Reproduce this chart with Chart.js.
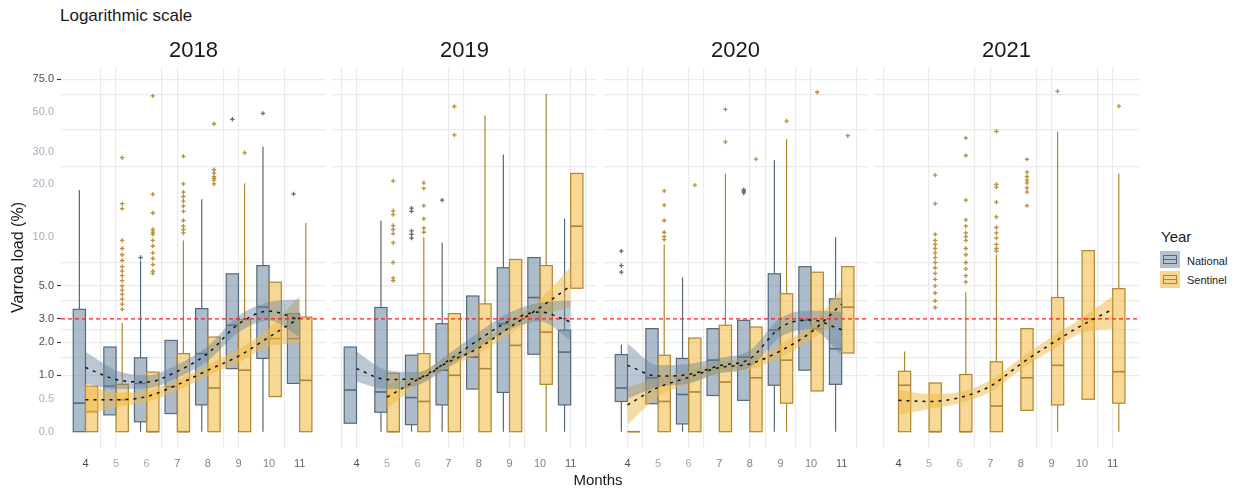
<!DOCTYPE html>
<html>
<head>
<meta charset="utf-8">
<title>Varroa load by month</title>
<script src="https://cdn.jsdelivr.net/npm/chart.js@4.4.1/dist/chart.umd.min.js"></script>
<style>
  body { margin: 0; background: #fff; }
  #page { position: relative; width: 1241px; height: 488px; font-family: "Liberation Sans", Arial, sans-serif; color: #1a1a1a; }
  .panel { position: absolute; top: 0; height: 488px; }
  .txt { position: absolute; white-space: nowrap; line-height: 1; }
  .key { position: absolute; width: 20px; height: 17px; }
  .key div { position: absolute; left: 3px; right: 3px; top: 4px; bottom: 4px; border: 1px solid; }
  .key div::after { content: ""; position: absolute; left: 0; right: 0; top: 3px; border-top: 1px solid; border-top-color: inherit; }
</style>
</head>
<body>
<div id="page">
  <div class="txt" style="left:60px;top:7px;font-size:17px">Logarithmic scale</div>
  <div class="panel" style="left:0;width:326px"><canvas id="chart2018"></canvas></div>
  <div class="panel" style="left:332px;width:265px"><canvas id="chart2019"></canvas></div>
  <div class="panel" style="left:603px;width:265px"><canvas id="chart2020"></canvas></div>
  <div class="panel" style="left:874px;width:265px"><canvas id="chart2021"></canvas></div>
  <div class="txt" style="left:598px;top:472px;font-size:15px;transform:translateX(-50%)">Months</div>
  <div class="txt" style="left:1161px;top:229px;font-size:15px">Year</div>
  <div class="key" style="left:1160px;top:251px;background:#b3c2ce"><div style="border-color:#56687a"></div></div>
  <div class="txt" style="left:1187px;top:256px;font-size:11px">National</div>
  <div class="key" style="left:1160px;top:271px;background:#f6d68f"><div style="border-color:#ad8631"></div></div>
  <div class="txt" style="left:1187px;top:275px;font-size:11px">Sentinel</div>
</div>
<script>
// Months on the x axis
const months = [4, 5, 6, 7, 8, 9, 10, 11];

// Y axis labels (values in %, axis is log10(x + 1))
const yTicks = [0, 0.5, 1, 2, 3, 5, 10, 20, 30, 50, 75];
const yTickText = ['0.0', '0.5', '1.0', '2.0', '3.0', '5.0', '10.0', '20.0', '30.0', '50.0', '75.0'];
const yTickMarked = [false, false, true, true, true, true, false, false, false, false, true];
const gridY = [1, 1.5, 2, 2.5, 4, 5, 7, 25, 40, 62, 75];
const threshold = 3;

// Box stats per month: [lower whisker, q1, median, q3, upper whisker]
const natBox2018 = [[0, 0, 0.42, 3.5, 18.5], [0.23, 0.23, 0.75, 1.83, 1.83], [0, 0.13, 0.81, 1.48, 7.2], [0.25, 0.25, 0.74, 2.07, 2.07],
                    [0, 0.39, 1.61, 3.54, 16.4], [1.17, 1.17, 2.7, 5.96, 5.96], [0, 1.46, 3.62, 6.7, 32.2], [0.81, 0.81, 2.14, 3.27, 3.27]];
const senBox2018 = [[0, 0, 0.28, 0.75, 0.75], [0, 0, 0.48, 0.79, 2.8], [0, 0, 0, 1.08, 1.08], [0, 0, 0, 1.61, 9.5],
                    [0, 0, 0.71, 2.2, 2.2], [0, 0, 1.13, 2.96, 20.2], [0.54, 0.54, 2.14, 5.28, 5.28], [0, 0, 0.88, 3.09, 12]];
const natBox2019 = [[0.11, 0.11, 0.67, 1.83, 1.83], [0, 0.27, 0.63, 3.6, 12.4], [0, 0.09, 0.52, 1.56, 1.56], [0, 0.39, 1.13, 2.77, 9.2],
                    [0.69, 0.69, 1.5, 4.3, 4.3], [0, 0.62, 2.77, 6.5, 29.2], [1.59, 1.59, 4.2, 7.5, 7.5], [0, 0.39, 1.66, 2.48, 12.7]];
const senBox2019 = [null, [0, 0, 0, 1.05, 1.05], [0, 0, 0.45, 1.61, 9.9], [0, 0, 1.0, 3.27, 3.27],
                    [0, 0, 1.17, 3.81, 47.7], [0, 0, 1.89, 7.3, 7.3], [0, 0.79, 2.4, 6.7, 62.6], [4.83, 4.83, 11.5, 22.9, 22.9]];
const natBox2020 = [[0, 0.45, 0.71, 1.58, 1.91], [0.41, 0.41, 0.94, 2.55, 2.55], [0, 0.1, 0.58, 1.46, 5.65], [0.56, 0.56, 1.41, 2.55, 2.55],
                    [0.47, 0.47, 1.5, 2.93, 2.93], [0, 0.77, 2.48, 5.96, 27.2], [1.13, 1.13, 2.93, 6.6, 6.6], [0, 0.79, 1.77, 4.12, 9.9]];
const senBox2020 = [[0, 0, 0, 0, 0], [0, 0, 0.45, 1.56, 9.0], [0, 0, 0.63, 2.16, 2.16], [0, 0, 0.84, 2.7, 22.8],
                    [0, 0, 0.94, 2.62, 2.62], [0, 0.42, 1.41, 4.45, 35.5], [0.65, 0.65, 2.55, 6.1, 6.1], [1.63, 1.63, 3.62, 6.6, 6.6]];
const natBox2021 = [null, null, null, null, null, null, null, null];
const senBox2021 = [[0, 0, 0.77, 1.1, 1.68], [0, 0, 0, 0.82, 0.82], [0, 0, 0, 1.02, 4.55], [0, 0, 0.37, 1.36, 7.8],
                    [0.3, 0.3, 0.94, 2.55, 2.55], [0, 0.39, 1.26, 4.2, 39], [0.49, 0.49, 3.0, 8.25, 8.25], [0, 0.42, 1.09, 4.8, 22.9]];

// Outliers: [month, value]
const natOut2018 = [[6, 7.5], [9, 45.5], [10, 49], [11, 17.6]];
const senOut2018 = [[5, 28], [5, 15.5], [5, 14.5], [5, 9.5], [5, 8.5], [5, 7.8], [5, 7.2], [5, 6.6], [5, 6.2], [5, 5.8], [5, 5.4], [5, 5], [5, 4.7], [5, 4.4], [5, 4.1], [5, 3.8], [5, 3.5],
                    [6, 61], [6, 17.5], [6, 13.7], [6, 11], [6, 10.6], [6, 10.3], [6, 9.5], [6, 8.8], [6, 8], [6, 7.4], [6, 6.8], [6, 6.2], [6, 6],
                    [7, 28.5], [7, 20], [7, 18], [7, 17], [7, 16], [7, 15], [7, 14], [7, 12.4], [7, 11.5], [7, 11], [7, 10.5],
                    [8, 43], [8, 24], [8, 23], [8, 22], [8, 21.5], [8, 21], [8, 20], [9, 29.8]];
const natOut2019 = [[6, 14.6], [6, 14], [6, 10.8], [6, 10.3], [6, 9.8], [7, 16.2]];
const senOut2019 = [[5, 20.8], [5, 14.1], [5, 13.4], [5, 11.6], [5, 11], [5, 10.4], [5, 9.2], [5, 7], [5, 5.6], [5, 5.4],
                    [6, 20.3], [6, 18.9], [6, 15.1], [6, 12.7], [6, 11.2], [6, 10.6], [7, 53.4], [7, 37.4]];
const natOut2020 = [[4, 8.2], [4, 6.7], [4, 6.1], [8, 18.6], [8, 18.2], [8, 17.8]];
const senOut2020 = [[5, 18.3], [5, 15.2], [5, 12.4], [5, 10.6], [5, 10], [5, 9.6], [6, 19.7], [7, 51.5], [7, 34.2], [8, 27.5], [9, 44.5], [10, 63.8], [11, 37]];
const natOut2021 = [];
const senOut2021 = [[5, 22.4], [5, 15.5], [5, 10.3], [5, 9.5], [5, 9], [5, 8.5], [5, 8], [5, 7.5], [5, 7], [5, 6.5], [5, 6], [5, 5.5], [5, 5], [5, 4.5], [5, 4], [5, 3.6],
                    [6, 36], [6, 28.8], [6, 16.2], [6, 12.5], [6, 11.5], [6, 10.5], [6, 10], [6, 9.5], [6, 8.5], [6, 7.8], [6, 7], [6, 6.4], [6, 5.8], [6, 5.3],
                    [7, 39.1], [7, 19.9], [7, 19.2], [7, 15.8], [7, 13], [7, 11.3], [7, 10.5], [7, 9.8], [7, 9], [7, 8.5], [7, 8.2],
                    [8, 27.4], [8, 23.3], [8, 22], [8, 21], [8, 20.3], [8, 19], [8, 18], [8, 15.1], [9, 64.6], [11, 53.6]];

// Smoothed trend with confidence band, per month
const natFit2018 = [1.2, 0.9, 0.84, 1.1, 1.62, 2.75, 3.4, 2.95];
const natLo2018 = [0.81, 0.69, 0.7, 0.94, 1.39, 2.38, 2.92, 2.2];
const natHi2018 = [1.66, 1.13, 1.0, 1.28, 1.87, 3.16, 3.93, 4.1];
const senFit2018 = [0.48, 0.48, 0.54, 0.78, 1.13, 1.53, 2.2, 3.05];
const senLo2018 = [0.23, 0.35, 0.44, 0.66, 0.99, 1.35, 1.85, 1.97];
const senHi2018 = [0.81, 0.62, 0.65, 0.9, 1.28, 1.76, 2.59, 4.3];

const natFit2019 = [1.17, 0.9, 0.92, 1.4, 2.1, 2.9, 3.35, 2.85];
const natLo2019 = [0.85, 0.69, 0.77, 1.21, 1.82, 2.52, 2.87, 2.07];
const natHi2019 = [1.68, 1.13, 1.08, 1.6, 2.4, 3.33, 3.88, 4.0];
const senFit2019 = [null, 0.53, 0.9, 1.35, 1.8, 2.6, 3.6, 5.0];
const senLo2019 = [null, 0.33, 0.77, 1.2, 1.61, 2.32, 3.15, 3.6];
const senHi2019 = [null, 0.78, 1.04, 1.52, 2.0, 2.9, 4.1, 6.6];

const natFit2020 = [1.26, 0.98, 1.02, 1.25, 1.45, 2.6, 2.95, 2.5];
const natLo2020 = [0.5, 0.73, 0.81, 1.05, 1.21, 2.2, 2.52, 1.56];
const natHi2020 = [1.95, 1.27, 1.3, 1.47, 1.72, 3.04, 3.44, 3.35];
const senFit2020 = [0.39, 0.72, 0.95, 1.2, 1.3, 1.7, 2.4, 3.8];
const senLo2020 = [0.09, 0.53, 0.8, 1.05, 1.15, 1.49, 2.1, 3.0];
const senHi2020 = [0.73, 0.93, 1.11, 1.36, 1.47, 1.92, 2.72, 4.8];

const natFit2021 = [null, null, null, null, null, null, null, null];
const natLo2021 = natFit2021;
const natHi2021 = natFit2021;
const senFit2021 = [0.47, 0.45, 0.52, 0.75, 1.3, 1.95, 2.7, 3.5];
const senLo2021 = [0.23, 0.32, 0.42, 0.63, 1.15, 1.72, 2.37, 2.55];
const senHi2021 = [0.67, 0.59, 0.63, 0.88, 1.47, 2.2, 3.06, 4.3];

// Vertical grid lines of each panel
const gridX2018 = [4.5, 5, 6.5, 7, 8.5, 9, 10.5];
const gridX2019 = [3.5, 4, 5.5, 7, 7.5, 9, 9.5, 11, 11.5];
const gridX2020 = [4, 4.5, 6, 6.5, 8, 8.5, 9.5, 10, 11.5];
const gridX2021 = [3.5, 5, 6.5, 7, 8.5, 9, 10.5, 11];

const FONT = '"Liberation Sans", Arial, sans-serif';
const X_MIN = 3.2, X_MAX = 11.86;
const Y_MIN = -0.087, Y_MAX = 1.947;
const NAT = { line: '#56687a', fill: 'rgba(118,144,166,0.6)', band: 'rgba(104,132,158,0.45)', dot: '#5b6d7f' };
const SEN = { line: '#ad8631', fill: 'rgba(242,190,78,0.6)', band: 'rgba(240,184,66,0.5)', dot: '#b8913a' };
const xTickColor = ['#4d4d4d', '#a3a5bd', '#a3a5bd', '#7d7f92', '#7d7f92', '#7d7f92', '#7d7f92', '#5d5f70'];

Chart.defaults.font.family = FONT;

const tr = v => Math.log10(v + 1);

// Boxplots drawn under the datasets, through the chart scales
function drawGroup(ctx, x, y, rows, off, col) {
    rows.forEach((r, i) => {
        if (!r) return;
        const m = months[i] + off;
        const l = x.getPixelForValue(m - 0.2);
        const rt = x.getPixelForValue(m + 0.2);
        const c = x.getPixelForValue(m);
        const [lo, q1, md, q3, hi] = r.map(v => y.getPixelForValue(tr(v)));
        ctx.strokeStyle = col.line;
        ctx.lineWidth = 1.2;
        ctx.beginPath();
        ctx.moveTo(c, hi); ctx.lineTo(c, q3);
        ctx.moveTo(c, q1); ctx.lineTo(c, lo);
        ctx.stroke();
        ctx.fillStyle = col.fill;
        ctx.fillRect(l, q3, rt - l, q1 - q3);
        ctx.strokeRect(l, q3, rt - l, q1 - q3);
        ctx.lineWidth = 1.6;
        ctx.beginPath();
        ctx.moveTo(l, md); ctx.lineTo(rt, md);
        ctx.stroke();
    });
}

function boxPlugin(natBox, senBox) {
    return {
        id: 'boxes',
        beforeDatasetsDraw(chart) {
            const { ctx, chartArea: a, scales } = chart;
            ctx.save();
            ctx.beginPath();
            ctx.rect(a.left, a.top, a.right - a.left, a.bottom - a.top);
            ctx.clip();
            drawGroup(ctx, scales.x, scales.y, natBox, -0.2, NAT);
            drawGroup(ctx, scales.x, scales.y, senBox, 0.2, SEN);
            ctx.restore();
        }
    };
}

const pts = vals => vals.map((v, i) => v == null ? null : { x: months[i], y: tr(v) }).filter(p => p);
const outPts = (list, off) => list.map(([m, v]) => ({ x: m + off, y: tr(v) }));

function makePanel(canvasId, year, s, first) {
    const line = { pointRadius: 0, cubicInterpolationMode: 'monotone', fill: false };
    const datasets = [
        { ...line, data: pts(s.natHi), borderColor: 'transparent', borderWidth: 0, fill: '+1', backgroundColor: NAT.band, order: 3 },
        { ...line, data: pts(s.natLo), borderColor: 'transparent', borderWidth: 0, order: 3 },
        { ...line, data: pts(s.senHi), borderColor: 'transparent', borderWidth: 0, fill: '+1', backgroundColor: SEN.band, order: 3 },
        { ...line, data: pts(s.senLo), borderColor: 'transparent', borderWidth: 0, order: 3 },
        { ...line, data: pts(s.natFit), borderColor: '#111', borderWidth: 1.5, borderDash: [3, 5], order: 1 },
        { ...line, data: pts(s.senFit), borderColor: '#111', borderWidth: 1.5, borderDash: [3, 5], order: 1 },
        { data: [{ x: X_MIN, y: tr(threshold) }, { x: X_MAX, y: tr(threshold) }], borderColor: '#ff1a1a', borderWidth: 1.3, borderDash: [4, 3], pointRadius: 0, order: 2 },
        { data: outPts(s.natOut, -0.2), showLine: false, pointStyle: 'cross', pointRadius: 2.2, pointBorderWidth: 1.3, pointBorderColor: NAT.dot, order: 0 },
        { data: outPts(s.senOut, 0.2), showLine: false, pointStyle: 'cross', pointRadius: 2.2, pointBorderWidth: 1.3, pointBorderColor: SEN.dot, order: 0 }
    ];

    new Chart(document.getElementById(canvasId), {
        type: 'line',
        data: { datasets },
        options: {
            responsive: true,
            maintainAspectRatio: false,
            animation: false,
            events: [],
            layout: { autoPadding: false, padding: { top: 35.5, left: 0, right: 0, bottom: 0 } },
            plugins: {
                legend: { display: false },
                tooltip: { enabled: false },
                title: {
                    display: true, text: year, fullSize: false, color: '#1a1a1a',
                    font: { size: 22, weight: 'normal' }, padding: { top: 2, bottom: 3 }
                }
            },
            scales: {
                x: {
                    type: 'linear', position: 'bottom', min: X_MIN, max: X_MAX, bounds: 'data',
                    afterBuildTicks: sc => { sc.ticks = months.map(v => ({ value: v })); },
                    afterFit: sc => { sc.height = 40; },
                    grid: { display: false, drawTicks: false },
                    border: { display: false },
                    ticks: {
                        autoSkip: false, maxRotation: 0, padding: 9,
                        color: c => xTickColor[c.index], font: { size: 11 },
                        callback: v => String(v)
                    }
                },
                xg: {
                    type: 'linear', position: 'bottom', min: X_MIN, max: X_MAX, bounds: 'data',
                    afterBuildTicks: sc => { sc.ticks = s.gridX.map(v => ({ value: v })); },
                    afterFit: sc => { sc.height = 0; },
                    grid: { color: '#ebebeb', lineWidth: 1.2, drawTicks: false },
                    border: { display: false },
                    ticks: { display: false }
                },
                y: {
                    type: 'linear', position: 'left', display: first, min: Y_MIN, max: Y_MAX, bounds: 'data',
                    afterBuildTicks: sc => { sc.ticks = yTicks.map(v => ({ value: tr(v) })); },
                    afterFit: sc => { sc.width = first ? 61 : 0; },
                    grid: {
                        drawOnChartArea: false, drawTicks: true, tickLength: 4, tickWidth: 1.1,
                        tickColor: c => yTickMarked[c.index] ? '#333' : 'rgba(0,0,0,0)'
                    },
                    border: { display: false },
                    ticks: {
                        autoSkip: false, padding: 3, font: { size: 11 },
                        color: c => yTickMarked[c.index] ? '#4d4d4d' : '#a9abc6',
                        callback: (v, i) => yTickText[i]
                    },
                    title: {
                        display: first, text: 'Varroa load (%)', color: '#1a1a1a',
                        font: { size: 16 }, padding: { top: 9, bottom: 0 }
                    }
                },
                yg: {
                    type: 'linear', position: 'left', min: Y_MIN, max: Y_MAX, bounds: 'data',
                    afterBuildTicks: sc => { sc.ticks = gridY.map(v => ({ value: tr(v) })); },
                    afterFit: sc => { sc.width = 0; },
                    grid: { color: '#ebebeb', lineWidth: 1.2, drawTicks: false },
                    border: { display: false },
                    ticks: { display: false }
                }
            }
        },
        plugins: [boxPlugin(s.natBox, s.senBox)]
    });
}

makePanel('chart2018', '2018', {
    natBox: natBox2018, senBox: senBox2018, natOut: natOut2018, senOut: senOut2018,
    natFit: natFit2018, natLo: natLo2018, natHi: natHi2018,
    senFit: senFit2018, senLo: senLo2018, senHi: senHi2018, gridX: gridX2018
}, true);
makePanel('chart2019', '2019', {
    natBox: natBox2019, senBox: senBox2019, natOut: natOut2019, senOut: senOut2019,
    natFit: natFit2019, natLo: natLo2019, natHi: natHi2019,
    senFit: senFit2019, senLo: senLo2019, senHi: senHi2019, gridX: gridX2019
}, false);
makePanel('chart2020', '2020', {
    natBox: natBox2020, senBox: senBox2020, natOut: natOut2020, senOut: senOut2020,
    natFit: natFit2020, natLo: natLo2020, natHi: natHi2020,
    senFit: senFit2020, senLo: senLo2020, senHi: senHi2020, gridX: gridX2020
}, false);
makePanel('chart2021', '2021', {
    natBox: natBox2021, senBox: senBox2021, natOut: natOut2021, senOut: senOut2021,
    natFit: natFit2021, natLo: natLo2021, natHi: natHi2021,
    senFit: senFit2021, senLo: senLo2021, senHi: senHi2021, gridX: gridX2021
}, false);
</script>
</body>
</html>
